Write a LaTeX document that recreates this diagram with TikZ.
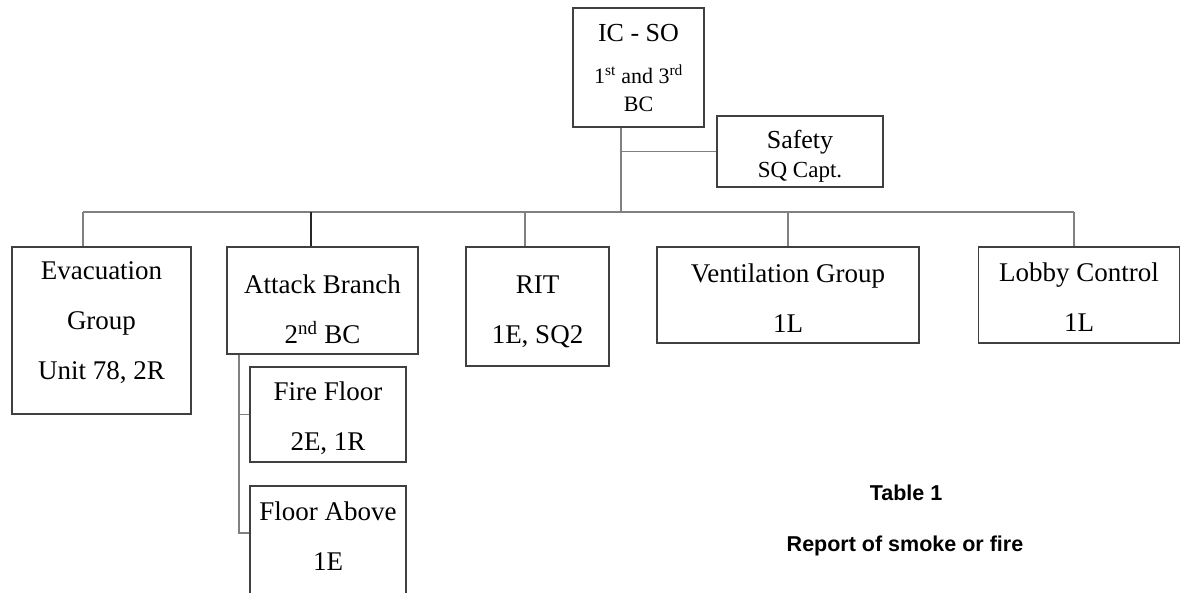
\documentclass[tikz,border=0pt]{standalone}
\usepackage{fontspec}
\setmainfont{Liberation Serif}
\newfontfamily\capfont{Liberation Sans}
\usepackage{tikz}
\usetikzlibrary{positioning}

% struts that push the text of a box down (top) or up (bottom)
\newcommand\padtop[1]{\rule{0pt}{#1}}
\newcommand\padbot[1]{\rule[-#1]{0pt}{0pt}}

\tikzset{
  box/.style={draw=black!75, line width=1.3pt, inner sep=0pt, align=center,
    font=\fontsize{27}{50}\selectfont},
  link/.style={draw=black!50, line width=1.3pt},
  caption/.style={inner sep=0pt, font=\capfont\bfseries\fontsize{21.5}{26}\selectfont},
}

\begin{document}
\begin{tikzpicture}[x=1pt, y=-1pt]
    \useasboundingbox (0,0) rectangle (1181,592);

    % commander and safety
    \node[box, minimum width=131pt, minimum height=119pt,
          font=\fontsize{26}{28}\selectfont] (ic) at (638.5,67.5)
        {IC - SO\\[14pt]\fontsize{22}{28}\selectfont 1\textsuperscript{st} and 3\textsuperscript{rd}\\\fontsize{22}{28}\selectfont BC};
    \node[box, minimum width=166pt, minimum height=71pt,
          font=\fontsize{26}{29}\selectfont] (safety) at (800,151.5)
        {\padtop{27pt}Safety\\\fontsize{23}{29}\selectfont SQ Capt.};

    % groups under the bus
    \node[box, minimum width=179pt, minimum height=167pt] (evac) at (101.5,330.5)
        {Evacuation\\Group\\Unit 78, 2R\padbot{19pt}};
    \node[box, minimum width=191pt, minimum height=107pt] (attack) at (322.5,300.5)
        {\padtop{36pt}Attack Branch\\2\textsuperscript{nd} BC};
    \node[box, minimum width=143pt, minimum height=119pt] (rit) at (537.5,306.5)
        {\padtop{28pt}RIT\\1E, SQ2};
    \node[box, minimum width=262pt, minimum height=96pt] (vent) at (788,295)
        {\padtop{24.5pt}Ventilation Group\\1L};
    \node[box, minimum width=201pt, minimum height=96pt] (lobby) at (1079,295)
        {\padtop{22.5pt}Lobby Control\\1L};

    % attack branch divisions
    \node[box, minimum width=156pt, minimum height=95pt] (firefl) at (328,414.5)
        {\padtop{26.5pt}Fire Floor\\2E, 1R};
    \node[box, minimum width=156pt, minimum height=114pt] (above) at (328,543)
        {Floor Above\\1E\padbot{14pt}};

    % bus and drops
    \coordinate (bus) at (621,212);
    \coordinate (d-evac) at (83,212);
    \coordinate (d-attack) at (311,212);
    \coordinate (d-rit) at (525,212);
    \coordinate (d-vent) at (788,212);
    \coordinate (d-lobby) at (1074,212);
    \draw[link] (ic.south -| bus) -- (bus);
    \draw[link] (safety.west) -- (safety.west -| bus);
    \draw[link] (d-evac) -- (d-lobby);
    \draw[link] (d-evac) -- (d-evac |- evac.north);
    \draw[link, draw=black!85] (d-attack) -- (d-attack |- attack.north);
    \draw[link] (d-rit) -- (d-rit |- rit.north);
    \draw[link] (d-vent) -- (vent.north);
    \draw[link] (d-lobby) -- (d-lobby |- lobby.north);

    % sub branch
    \coordinate (sub) at (239,533);
    \draw[link] (sub |- attack.south) -- (sub) -- (sub -| above.west);
    \draw[link] (firefl.west) -- (firefl.west -| sub);

    % caption
    \node[caption] (tabno) at (906,493) {Table 1};
    \node[caption] (tabtitle) at (905,546) {Report of smoke or fire};
\end{tikzpicture}
\end{document}
